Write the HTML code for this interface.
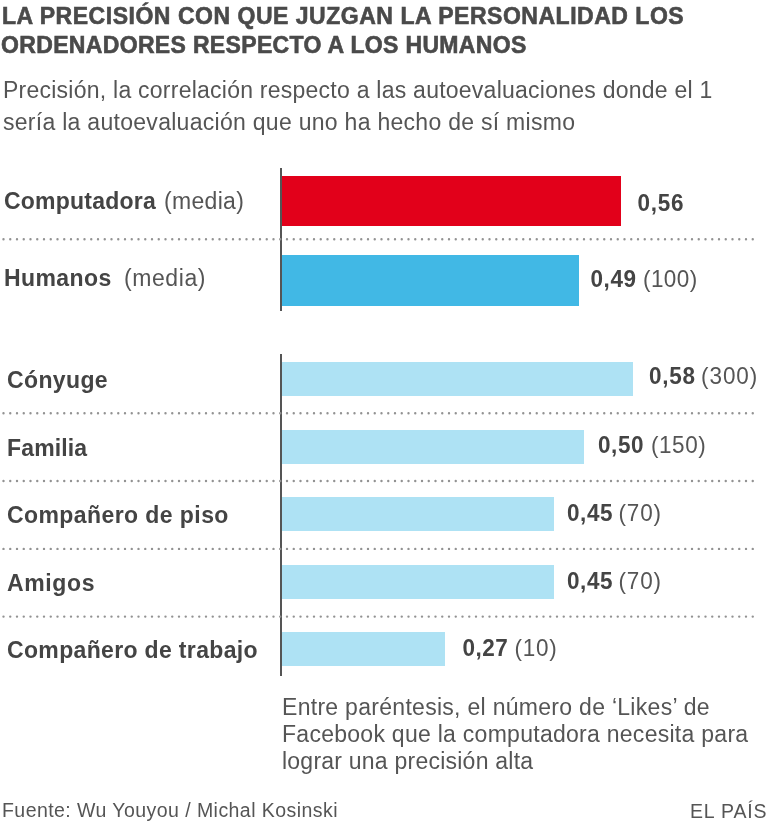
<!DOCTYPE html>
<html><head><meta charset="utf-8"><title>Precisión</title>
<style>
html,body{margin:0;padding:0;background:#fff;}
body{width:768px;height:826px;position:relative;overflow:hidden;font-family:"Liberation Sans",sans-serif;}
.t{position:absolute;white-space:pre;line-height:30px;filter:grayscale(1);}
.bm{display:inline-block;width:0;height:0;vertical-align:baseline;}
.r{position:absolute;}
</style></head><body>

<div class="r" style="left:280px;top:167.8px;width:2.20px;height:143.70px;background:#555"></div>
<div class="r" style="left:280px;top:354.1px;width:2.30px;height:322.40px;background:#555"></div>
<div class="r" style="left:281.5px;top:175.6px;width:339.60px;height:50.40px;background:#e2001a"></div>
<div class="r" style="left:281.5px;top:255.4px;width:297.10px;height:50.20px;background:#41b8e5"></div>
<div class="r" style="left:282.3px;top:362px;width:351.10px;height:34.00px;background:#aee2f4"></div>
<div class="r" style="left:282.3px;top:429.5px;width:302.10px;height:34.00px;background:#aee2f4"></div>
<div class="r" style="left:282.3px;top:497px;width:271.50px;height:34.00px;background:#aee2f4"></div>
<div class="r" style="left:282.3px;top:564.5px;width:271.50px;height:34.00px;background:#aee2f4"></div>
<div class="r" style="left:282.3px;top:632px;width:162.70px;height:34.00px;background:#aee2f4"></div>
<svg class="r" style="left:0;top:0" width="768" height="826"><line x1="3.5" y1="239.2" x2="753.5" y2="239.2" stroke="#929292" stroke-width="2.4" stroke-linecap="round" stroke-dasharray="0 6.75"/><line x1="3.5" y1="413.3" x2="753.5" y2="413.3" stroke="#929292" stroke-width="2.4" stroke-linecap="round" stroke-dasharray="0 6.75"/><line x1="3.5" y1="481" x2="753.5" y2="481" stroke="#929292" stroke-width="2.4" stroke-linecap="round" stroke-dasharray="0 6.75"/><line x1="3.5" y1="548.9" x2="753.5" y2="548.9" stroke="#929292" stroke-width="2.4" stroke-linecap="round" stroke-dasharray="0 6.75"/><line x1="3.5" y1="616.6" x2="753.5" y2="616.6" stroke="#929292" stroke-width="2.4" stroke-linecap="round" stroke-dasharray="0 6.75"/></svg>
<div class="t" style="left:2.00px;top:0.80px;font-size:23px;font-weight:700;letter-spacing:0.522px;color:#4a4a4a;-webkit-text-stroke:0.6px #4a4a4a"><i class="bm"></i>LA PRECISIÓN CON QUE JUZGAN LA PERSONALIDAD LOS</div>
<div class="t" style="left:1.00px;top:29.50px;font-size:23px;font-weight:700;letter-spacing:0.339px;color:#4a4a4a;-webkit-text-stroke:0.6px #4a4a4a"><i class="bm"></i>ORDENADORES RESPECTO A LOS HUMANOS</div>
<div class="t" style="left:3.00px;top:75.00px;font-size:23px;font-weight:400;letter-spacing:0.243px;color:#555"><i class="bm"></i>Precisión, la correlación respecto a las autoevaluaciones donde el 1</div>
<div class="t" style="left:3.00px;top:106.80px;font-size:23px;font-weight:400;letter-spacing:0.284px;color:#555"><i class="bm"></i>sería la autoevaluación que uno ha hecho de sí mismo</div>
<div class="t" style="left:4.00px;top:186.00px;font-size:23px;font-weight:700;letter-spacing:0.230px;color:#444"><i class="bm"></i>Computadora</div>
<div class="t" style="left:164.00px;top:186.00px;font-size:23px;font-weight:400;letter-spacing:0.317px;color:#555"><i class="bm"></i>(media)</div>
<div class="t" style="left:4.00px;top:262.60px;font-size:23px;font-weight:700;letter-spacing:0.417px;color:#444"><i class="bm"></i>Humanos</div>
<div class="t" style="left:124.00px;top:262.60px;font-size:23px;font-weight:400;letter-spacing:0.583px;color:#555"><i class="bm"></i>(media)</div>
<div class="t" style="left:7.00px;top:364.70px;font-size:23px;font-weight:700;letter-spacing:0.367px;color:#444"><i class="bm"></i>Cónyuge</div>
<div class="t" style="left:7.00px;top:432.50px;font-size:23px;font-weight:700;letter-spacing:0.150px;color:#444"><i class="bm"></i>Familia</div>
<div class="t" style="left:7.00px;top:499.70px;font-size:23px;font-weight:700;letter-spacing:0.419px;color:#444"><i class="bm"></i>Compañero de piso</div>
<div class="t" style="left:7.00px;top:567.50px;font-size:23px;font-weight:700;letter-spacing:0.620px;color:#444"><i class="bm"></i>Amigos</div>
<div class="t" style="left:7.00px;top:634.50px;font-size:23px;font-weight:700;letter-spacing:0.342px;color:#444"><i class="bm"></i>Compañero de trabajo</div>
<div class="t" style="left:637.50px;top:189.20px;font-size:22.5px;font-weight:700;letter-spacing:0.750px;color:#444;transform:scaleY(1.06);transform-origin:0 22px"><i class="bm"></i>0,56</div>
<div class="t" style="left:590.50px;top:265.30px;font-size:22.5px;font-weight:700;letter-spacing:0.583px;color:#444;transform:scaleY(1.06);transform-origin:0 22px"><i class="bm"></i>0,49</div>
<div class="t" style="left:643.00px;top:265.30px;font-size:22.5px;font-weight:400;letter-spacing:0.425px;color:#555;transform:scaleY(1.06);transform-origin:0 22px"><i class="bm"></i>(100)</div>
<div class="t" style="left:649.00px;top:361.70px;font-size:22.5px;font-weight:700;letter-spacing:0.700px;color:#444;transform:scaleY(1.06);transform-origin:0 22px"><i class="bm"></i>0,58</div>
<div class="t" style="left:701.00px;top:361.70px;font-size:22.5px;font-weight:400;letter-spacing:0.950px;color:#555;transform:scaleY(1.06);transform-origin:0 22px"><i class="bm"></i>(300)</div>
<div class="t" style="left:598.00px;top:431.20px;font-size:22.5px;font-weight:700;letter-spacing:0.600px;color:#444;transform:scaleY(1.06);transform-origin:0 22px"><i class="bm"></i>0,50</div>
<div class="t" style="left:650.95px;top:431.20px;font-size:22.5px;font-weight:400;letter-spacing:0.587px;color:#555;transform:scaleY(1.06);transform-origin:0 22px"><i class="bm"></i>(150)</div>
<div class="t" style="left:567.00px;top:498.70px;font-size:22.5px;font-weight:700;letter-spacing:0.600px;color:#444;transform:scaleY(1.06);transform-origin:0 22px"><i class="bm"></i>0,45</div>
<div class="t" style="left:618.40px;top:498.70px;font-size:22.5px;font-weight:400;letter-spacing:0.867px;color:#555;transform:scaleY(1.06);transform-origin:0 22px"><i class="bm"></i>(70)</div>
<div class="t" style="left:567.00px;top:566.50px;font-size:22.5px;font-weight:700;letter-spacing:0.600px;color:#444;transform:scaleY(1.06);transform-origin:0 22px"><i class="bm"></i>0,45</div>
<div class="t" style="left:618.40px;top:566.50px;font-size:22.5px;font-weight:400;letter-spacing:0.867px;color:#555;transform:scaleY(1.06);transform-origin:0 22px"><i class="bm"></i>(70)</div>
<div class="t" style="left:462.40px;top:633.70px;font-size:22.5px;font-weight:700;letter-spacing:0.533px;color:#444;transform:scaleY(1.06);transform-origin:0 22px"><i class="bm"></i>0,27</div>
<div class="t" style="left:514.50px;top:633.70px;font-size:22.5px;font-weight:400;letter-spacing:0.767px;color:#555;transform:scaleY(1.06);transform-origin:0 22px"><i class="bm"></i>(10)</div>
<div class="t" style="left:282.00px;top:692.40px;font-size:23px;font-weight:400;letter-spacing:0.290px;color:#555"><i class="bm"></i>Entre paréntesis, el número de ‘Likes’ de</div>
<div class="t" style="left:282.00px;top:718.80px;font-size:23px;font-weight:400;letter-spacing:0.273px;color:#555"><i class="bm"></i>Facebook que la computadora necesita para</div>
<div class="t" style="left:282.00px;top:745.80px;font-size:23px;font-weight:400;letter-spacing:0.233px;color:#555"><i class="bm"></i>lograr una precisión alta</div>
<div class="t" style="left:2.00px;top:795.30px;font-size:19.5px;font-weight:400;letter-spacing:0.441px;color:#555"><i class="bm"></i>Fuente: Wu Youyou / Michal Kosinski</div>
<div class="t" style="left:690.00px;top:795.50px;font-size:19.5px;font-weight:400;letter-spacing:0.833px;color:#555"><i class="bm"></i>EL PAÍS</div>
</body></html>
